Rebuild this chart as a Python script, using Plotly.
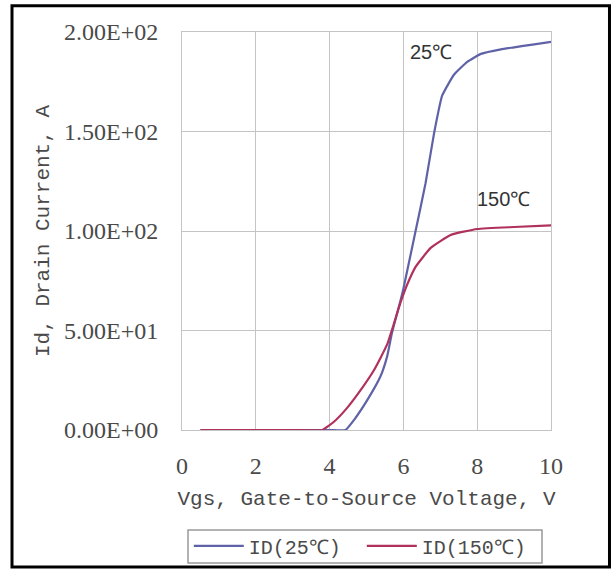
import plotly.graph_objects as go

# Data
vgs_25 = [0.5, 1, 2, 3, 4, 4.43, 4.66, 5.02, 5.38, 5.56, 5.69, 5.92, 6.0, 6.33, 6.6, 6.83, 7.05, 7.37, 7.73, 8.1, 8.64, 9.0, 9.5, 10]
id_25 = [0, 0, 0, 0, 0, 0, 5, 15, 27, 37, 48.7, 65, 71, 100, 124, 149, 168, 178.5, 185, 189, 191.3, 192.3, 193.7, 195]

vgs_150 = [0.5, 1, 2, 3, 3.8, 3.89, 4.11, 4.47, 4.84, 5.2, 5.56, 5.92, 6.1, 6.33, 6.74, 7.28, 8.0, 9.0, 10]
id_150 = [0, 0, 0, 0, 0, 1, 4, 11, 20, 30, 43, 64, 73, 82, 91.5, 98, 101, 102, 102.8]

x_ticks = [0, 2, 4, 6, 8, 10]
y_ticks = [0, 50, 100, 150, 200]
y_ticklabels = ["0.00E+00", "5.00E+01", "1.00E+02", "1.50E+02", "2.00E+02"]

name_25 = "ID(25℃)"
name_150 = "ID(150℃)"
label_25 = "25℃"
label_150 = "150℃"

MONO = "Liberation Mono, Courier New, monospace"
SERIF = "Liberation Serif, Times New Roman, serif"
TXT = "#4a4a4a"
BLUE = "#5f62a6"
RED = "#b0305e"
GRID = "#c4c4c4"

fig = go.Figure()
fig.add_trace(go.Scatter(x=vgs_25, y=id_25, mode="lines", name=name_25,
                         line=dict(color=BLUE, width=2.2, shape="spline", smoothing=0.4)))
fig.add_trace(go.Scatter(x=vgs_150, y=id_150, mode="lines", name=name_150,
                         line=dict(color=RED, width=2.2, shape="spline", smoothing=0.4)))

fig.add_annotation(x=6.74, y=190, text=label_25, showarrow=False,
                   font=dict(family="Liberation Sans, Arial", size=20, color="#333333"))
fig.add_annotation(x=8.7, y=116, text=label_150, showarrow=False,
                   font=dict(family="Liberation Sans, Arial", size=20, color="#333333"))

# outer frame
fig.add_shape(type="rect", xref="paper", yref="paper",
              x0=-0.4607, x1=1.1585, y0=-0.344, y1=1.066,
              line=dict(color="black", width=3), fillcolor="rgba(0,0,0,0)", layer="above")
# legend box
fig.add_shape(type="rect", xref="paper", yref="paper",
              x0=0.0163, x1=0.9756, y0=-0.3342, y1=-0.2513,
              line=dict(color="#999999", width=1.5), fillcolor="rgba(0,0,0,0)", layer="above")

fig.update_layout(
    width=615, height=570,
    margin=dict(l=182, r=64, t=32, b=140, autoexpand=False),
    paper_bgcolor="white", plot_bgcolor="white",
    font=dict(family=MONO, size=21, color=TXT),
    showlegend=True,
    legend=dict(orientation="h", xref="container", x=0.307, xanchor="left",
                yref="container", y=0.0765, yanchor="top",
                borderwidth=0, bgcolor="rgba(0,0,0,0)",
                font=dict(family=MONO, size=20, color=TXT),
                itemwidth=50, entrywidth=108, entrywidthmode="pixels"),
    xaxis=dict(range=[0, 10], tickvals=x_ticks, ticktext=[str(v) for v in x_ticks],
               tickfont=dict(family=SERIF, size=24, color=TXT),
               showgrid=True, gridcolor=GRID, gridwidth=1,
               showline=True, linecolor=GRID, mirror=True, zeroline=False,
               ticks="outside", ticklen=14, tickcolor="rgba(0,0,0,0)",
               title=dict(text="Vgs, Gate-to-Source Voltage, V", standoff=12,
                          font=dict(family=MONO, size=21, color=TXT))),
    yaxis=dict(range=[0, 200], tickvals=y_ticks, ticktext=y_ticklabels,
               tickfont=dict(family=SERIF, size=24, color=TXT),
               showgrid=True, gridcolor=GRID, gridwidth=1,
               showline=True, linecolor=GRID, mirror=True, zeroline=False,
               ticks="outside", ticklen=18, tickcolor="rgba(0,0,0,0)",
               title=dict(text="Id, Drain Current, A", standoff=8,
                          font=dict(family=MONO, size=21, color=TXT))),
)

fig.write_html("out.html", config={"displayModeBar": False},
               post_script="document.body.style.margin='0';")
